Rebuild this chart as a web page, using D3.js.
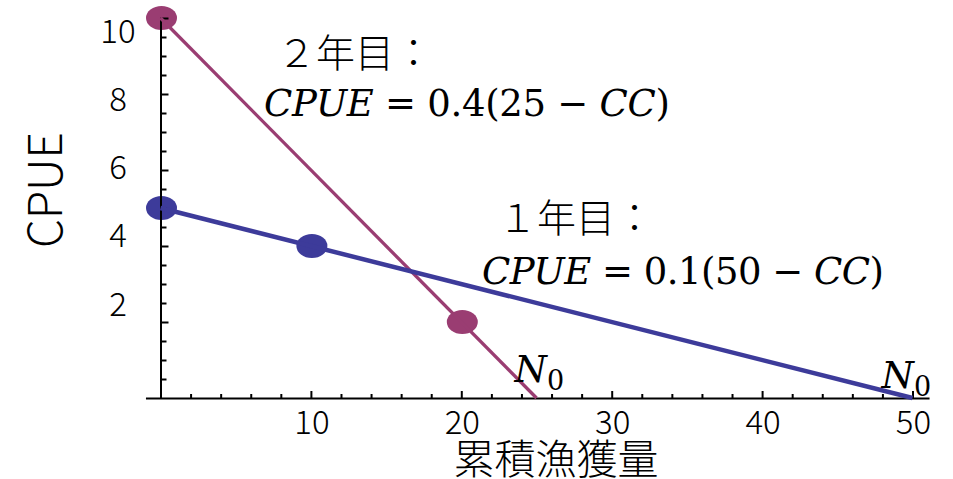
<!DOCTYPE html>
<html>
<head>
<meta charset="utf-8">
<script src="https://cdn.jsdelivr.net/npm/d3@7"></script>
<style>
  html, body { margin: 0; padding: 0; background: #fff; }
  svg { display: block; }
  .jp { font-family: "Noto Sans CJK JP", "Noto Sans", sans-serif; font-weight: 300; fill: #000; }
  .math { font-family: "DejaVu Serif", "Liberation Serif", serif; fill: #000; }
</style>
</head>
<body>
<svg id="chart" width="953" height="479"></svg>
<script>
// Cumulative catch (CC) vs CPUE, Leslie depletion lines for two years
const yTickLabels = [2, 4, 6, 8, 10];
const xTickLabels = [10, 20, 30, 40, 50];

// Year 1: CPUE = 0.1(50 - CC)
const year1LineCC = [0, 50];
const year1LineCPUE = [5, 0];
const year1PointsCC = [0, 10];
const year1PointsCPUE = [5, 4];

// Year 2: CPUE = 0.4(25 - CC)
const year2LineCC = [0, 25];
const year2LineCPUE = [10, 0];
const year2PointsCC = [0, 20];
const year2PointsCPUE = [10, 2];

const colorYear1 = "#3d3b9a";
const colorYear2 = "#9a3d72";

const svg = d3.select("#chart");

const x = d3.scaleLinear().domain([0, 50]).range([160.5, 912.5]);
const y = d3.scaleLinear().domain([0, 10]).range([398, 18]);
// tick label rows sit on their own slightly compressed scale
const yLabel = d3.scaleLinear().domain([2, 10]).range([301.5, 28.5]);

const zip = (a, b) => a.map((v, i) => [v, b[i]]);

// points
const pointLayer = svg.append("g");
function drawPoints(cc, cpue, color) {
  pointLayer.selectAll(null)
    .data(zip(cc, cpue))
    .enter().append("ellipse")
    .attr("cx", d => x(d[0]) + 1)
    .attr("cy", d => y(d[1]))
    .attr("rx", 15.5)
    .attr("ry", 12)
    .attr("fill", color);
}
drawPoints(year1PointsCC, year1PointsCPUE, colorYear1);
drawPoints(year2PointsCC, year2PointsCPUE, colorYear2);

// axes
const axisLayer = svg.append("g");
const yMinor = d3.range(0.5, 10.01, 0.5);
axisLayer.append("g")
  .attr("transform", `translate(${x(0)},0)`)
  .call(d3.axisRight(y).tickValues(yMinor).tickFormat("")
    .tickSizeInner(6).tickSizeOuter(0))
  .call(g => g.selectAll(".tick line")
    .attr("x2", d => (d % 2 === 0 ? 8 : 6)))
  .call(g => g.selectAll("line, path").attr("stroke", "#000").attr("stroke-width", 2));

const xMinor = d3.range(2, 50.01, 2);
axisLayer.append("g")
  .attr("transform", `translate(0,${y(0)})`)
  .call(d3.axisTop(x.copy().domain([-1, 51.1]).range([x(-1), x(51.1)]))
    .tickValues(xMinor).tickFormat("")
    .tickSizeInner(4).tickSizeOuter(0))
  .call(g => g.selectAll(".tick line")
    .attr("y2", d => (d % 10 === 0 ? -7 : -4)))
  .call(g => g.selectAll("line, path").attr("stroke", "#000").attr("stroke-width", 2));

// tick labels
axisLayer.selectAll(null)
  .data(yTickLabels)
  .enter().append("text")
  .attr("class", "jp")
  .attr("x", 118)
  .attr("y", d => yLabel(d))
  .attr("text-anchor", "middle")
  .attr("dominant-baseline", "central")
  .attr("font-size", 33)
  .text(d => d);

axisLayer.selectAll(null)
  .data(xTickLabels)
  .enter().append("text")
  .attr("class", "jp")
  .attr("x", d => x(d) + 1)
  .attr("y", 420)
  .attr("text-anchor", "middle")
  .attr("dominant-baseline", "central")
  .attr("font-size", 33)
  .text(d => d);

// axis titles
svg.append("text")
  .attr("class", "jp")
  .attr("transform", "translate(42,190) rotate(-90)")
  .attr("text-anchor", "middle")
  .attr("dominant-baseline", "central")
  .attr("font-size", 46)
  .text("CPUE");

svg.append("text")
  .attr("class", "jp")
  .attr("x", 556)
  .attr("y", 474)
  .attr("text-anchor", "middle")
  .attr("font-size", 41)
  .text("累積漁獲量");

// depletion lines
const line = d3.line().x(d => x(d[0])).y(d => y(d[1]));
svg.append("path")
  .attr("d", line(zip(year2LineCC, year2LineCPUE)))
  .attr("fill", "none").attr("stroke", colorYear2).attr("stroke-width", 3.3);
svg.append("path")
  .attr("d", line(zip(year1LineCC, year1LineCPUE)))
  .attr("fill", "none").attr("stroke", colorYear1).attr("stroke-width", 4.5);

// N0 markers at the x-intercepts
function drawN0(cc, dx, baseline) {
  const t = svg.append("text").attr("class", "math")
    .attr("x", x(cc) + dx).attr("y", baseline).attr("font-size", 37);
  t.append("tspan").attr("font-style", "italic").text("N");
  t.append("tspan").attr("font-size", 27).attr("dy", 8).text("0");
}
drawN0(year2LineCC[1], -22, 382);
drawN0(year1LineCC[1], -31, 388);

// equations
function drawEquation(px, labelX, labelBaseline, eqBaseline, yearLabel, coef, n0, width) {
  svg.append("text").attr("class", "jp")
    .attr("x", labelX).attr("y", labelBaseline).attr("font-size", 39)
    .text(yearLabel);
  const t = svg.append("text").attr("class", "math")
    .attr("x", px).attr("y", eqBaseline).attr("font-size", 37)
    .attr("textLength", width).attr("lengthAdjust", "spacing");
  t.append("tspan").attr("font-style", "italic").text("CPUE");
  t.append("tspan").text(` = ${coef}(${n0} − `);
  t.append("tspan").attr("font-style", "italic").text("CC");
  t.append("tspan").text(")");
}
drawEquation(264, 277, 67, 116, "２年目：", 0.4, 25, 406);
drawEquation(482, 498, 232, 284, "１年目：", 0.1, 50, 402);
</script>
</body>
</html>
